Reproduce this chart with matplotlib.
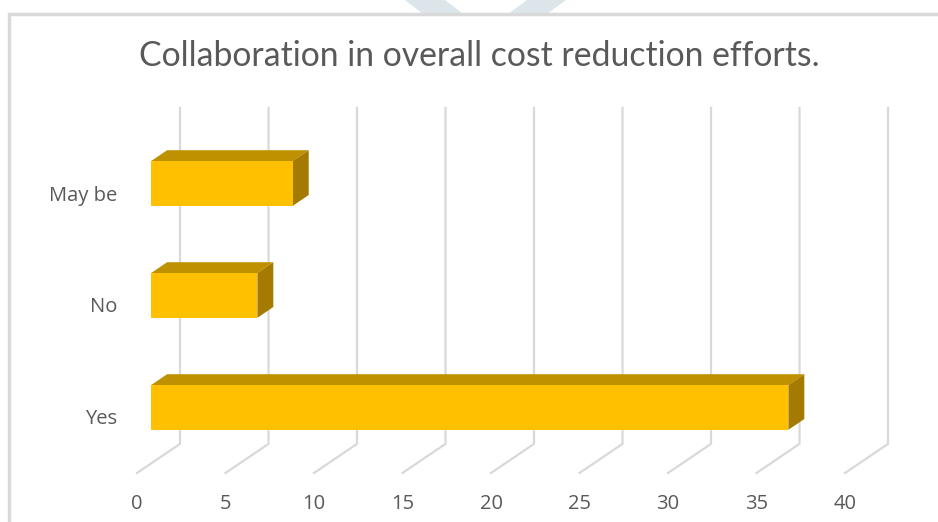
import matplotlib.pyplot as plt
from matplotlib.patches import Polygon, Rectangle

# survey answers
categories = ["Yes", "No", "May be"]
counts = [36, 6, 8]
ticks = [0, 5, 10, 15, 20, 25, 30, 35, 40]

FACE = "#ffc000"
TOP = "#bf9000"
SIDE = "#a47b00"
GRID = "#d9d9d9"
TEXT = "#595959"

# oblique depth: shift per unit of depth, in data units
DV = 2.43   # along value axis
DC = 0.26   # along category axis
Z_FRONT, Z_BACK = 0.33, 0.70
HALF = 0.2


def proj(v, c, z):
    return (v + z * DV, c + z * DC)


fig = plt.figure(figsize=(9.38, 5.22), dpi=100)

# faint shape peeking above the chart frame
for pts in ([(405, 0), (445, 0), (463, 14), (423, 14)],
            [(527, 0), (566, 0), (547, 14), (508, 14)]):
    fig.patches.append(Polygon([(x / 938, 1 - y / 522) for x, y in pts],
                               closed=True, transform=fig.transFigure,
                               facecolor="#dce5ea", edgecolor="none", zorder=-3))
# chart frame
fig.patches.append(Rectangle((9 / 938, -0.1), 1.2, 1.1 - 14 / 522,
                             transform=fig.transFigure, facecolor="white",
                             edgecolor=GRID, linewidth=2.5, zorder=-2))

ax = fig.add_axes([137 / 938, 49 / 522, 708 / 938, 336 / 522])
ax.set_facecolor("none")
ax.set_xlim(0, 40)
ax.set_ylim(-0.5, 2.5)
for s in ax.spines.values():
    s.set_visible(False)

# back wall gridlines and floor lines
for t in ticks:
    x0, y0 = proj(t, -0.5, 0)
    x1, y1 = proj(t, -0.5, 1)
    x2, y2 = proj(t, 2.5, 1)
    ax.plot([x0, x1, x2], [y0, y1, y2], color=GRID, lw=1.6,
            clip_on=False, zorder=1, solid_joinstyle="miter")

# 3d bars
for i, val in enumerate(counts):
    lo, hi = i - HALF, i + HALF
    front = [proj(0, lo, Z_FRONT), proj(val, lo, Z_FRONT),
             proj(val, hi, Z_FRONT), proj(0, hi, Z_FRONT)]
    top = [proj(0, hi, Z_FRONT), proj(val, hi, Z_FRONT),
           proj(val, hi, Z_BACK), proj(0, hi, Z_BACK)]
    side = [proj(val, lo, Z_FRONT), proj(val, lo, Z_BACK),
            proj(val, hi, Z_BACK), proj(val, hi, Z_FRONT)]
    for pts, col in ((top, TOP), (side, SIDE), (front, FACE)):
        ax.add_patch(Polygon(pts, closed=True, facecolor=col,
                             edgecolor="none", clip_on=False, zorder=3))

ax.set_xticks(ticks)
ax.set_yticks(range(len(categories)), categories)
ax.tick_params(axis="both", length=0, labelsize=14.5, colors=TEXT)
ax.tick_params(axis="x", pad=15)
ax.tick_params(axis="y", pad=14)
for lab in ax.get_xticklabels() + ax.get_yticklabels():
    lab.set_fontfamily("Open Sans")

fig.text(0.511, 1 - 56 / 522, "Collaboration in overall cost reduction efforts.",
         ha="center", va="center", fontsize=24.3, color=TEXT, family="Lato")

fig.savefig("out.png", dpi=100)
